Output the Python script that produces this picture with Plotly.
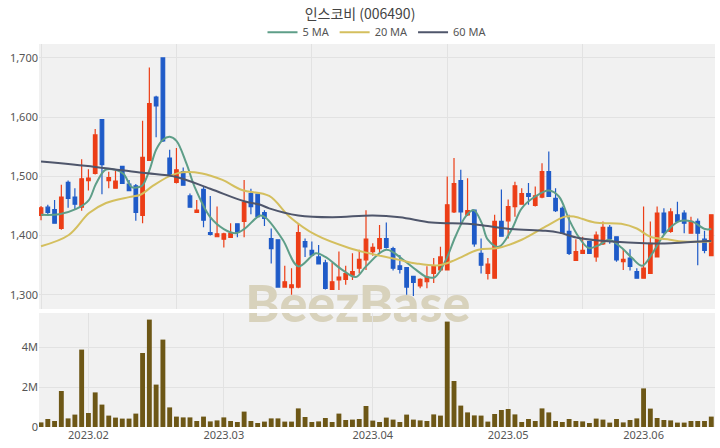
import plotly.graph_objects as go

title_text = "인스코비 (006490)"

opens = [1434,1448,1444,1412,1490,1465,1448,1493,1505,1596,
         1493,1480,1517,1487,1484,1434,1527,1634,1700,1531,
         1490,1508,1467,1439,1478,1405,1398,1394,1397,1420,
         1424,1471,1470,1439,1395,1393,1313,1312,1313,1390,
         1375,1364,1354,1309,1325,1326,1333,1345,1359,1373,
         1378,1395,1378,1349,1346,1331,1315,1322,1336,1342,
         1342,1440,1493,1435,1443,1370,1336,1328,1424,1425,
         1449,1453,1471,1451,1465,1508,1463,1446,1407,1358,
         1370,1390,1364,1386,1414,1398,1356,1362,1339,1328,
         1336,1364,1438,1407,1435,1438,1404,1424,1394,1366]
highs = [1450,1452,1460,1486,1493,1480,1529,1512,1580,1596,
         1508,1510,1518,1494,1487,1594,1684,1636,1700,1545,
         1548,1515,1471,1460,1482,1467,1449,1405,1421,1421,
         1494,1479,1470,1443,1412,1394,1349,1345,1421,1395,
         1390,1384,1359,1354,1373,1349,1370,1376,1443,1387,
         1418,1422,1381,1367,1346,1331,1328,1348,1362,1381,
         1500,1531,1511,1497,1444,1395,1362,1435,1478,1461,
         1491,1480,1489,1483,1522,1542,1480,1449,1435,1394,
         1398,1390,1407,1424,1418,1398,1377,1377,1345,1449,
         1424,1449,1446,1446,1457,1443,1432,1429,1408,1435]
lows = [1426,1436,1420,1410,1447,1445,1442,1476,1503,1470,
        1480,1479,1487,1475,1425,1421,1527,1566,1558,1500,
        1488,1484,1447,1439,1414,1400,1398,1380,1397,1397,
        1397,1436,1431,1416,1353,1313,1313,1300,1311,1364,
        1367,1352,1309,1308,1308,1317,1325,1336,1342,1366,
        1370,1378,1341,1336,1300,1298,1311,1311,1320,1339,
        1342,1438,1418,1433,1381,1336,1326,1328,1398,1395,
        1432,1452,1452,1449,1463,1466,1440,1403,1367,1358,
        1370,1370,1356,1384,1386,1356,1342,1341,1328,1328,
        1335,1364,1401,1405,1422,1404,1404,1350,1370,1366]
closes = [1447,1439,1421,1465,1463,1453,1496,1497,1570,1520,
          1498,1492,1488,1476,1439,1532,1623,1619,1560,1501,
          1511,1485,1448,1443,1426,1402,1403,1403,1404,1406,
          1456,1449,1432,1429,1378,1313,1322,1317,1405,1381,
          1367,1352,1311,1322,1330,1336,1339,1360,1394,1380,
          1395,1380,1345,1343,1313,1321,1326,1330,1348,1364,
          1452,1488,1440,1442,1386,1350,1352,1424,1399,1449,
          1484,1471,1466,1467,1508,1466,1442,1404,1370,1373,
          1375,1370,1401,1414,1395,1359,1360,1348,1328,1345,
          1387,1438,1405,1440,1424,1421,1424,1404,1375,1435]
volume_m = [0.23,0.4,0.3,1.8,0.43,0.62,3.87,0.7,1.73,1.12,
            0.57,0.47,0.42,0.42,0.67,3.7,5.37,2.12,4.37,0.98,
            0.52,0.48,0.48,0.3,0.52,0.28,0.33,0.48,0.3,0.25,
            0.77,0.3,0.2,0.27,0.43,0.43,0.27,0.27,0.93,0.5,
            0.25,0.28,0.45,0.25,0.67,0.35,0.37,0.4,1.05,0.32,
            0.25,0.47,0.37,0.25,0.62,0.37,0.33,0.3,0.63,0.57,
            5.27,2.3,1.07,0.73,0.58,0.57,0.27,0.65,0.85,0.9,
            0.63,0.25,0.4,0.3,0.93,0.73,0.3,0.25,0.4,0.3,
            0.28,0.2,0.42,0.37,0.22,0.4,0.23,0.35,0.43,1.93,
            0.92,0.45,0.35,0.33,0.22,0.22,0.3,0.3,0.3,0.52]

ma5_x = [0,2.7,5.2,7,8.1,9.5,11,12.2,13.4,14.5,15,16,17,18,19,20,21.5,22.7,25,27,28.8,30,
         32.4,33.2,35.7,38,40.6,42,44.5,46.5,48,51,53.5,55.4,57,58.2,59.8,61.2,62.7,63.9,
         65.1,66,67.6,69.5,71,73,75,76.5,78,79.4,80.9,82.4,83.9,85.8,87.3,88.8,90.3,92.2,
         94.2,96.1,98.1,99]
ma5_y = [1435,1436,1445,1459,1487,1511,1511,1504,1482,1482,1485,1510,1545,1562,1567,1560,1521,1482,1431,1411,1404,1411,
         1434,1430,1393,1348,1370,1364,1342,1330,1348,1376,1359,1342,1330,1330,1359,1398,1432,1443,
         1421,1393,1381,1410,1446,1466,1476,1466,1427,1398,1379,1384,1393,1379,1362,1349,1370,1404,
         1424,1424,1411,1411]
ma20_x = [0,4.1,7.1,9.6,13,14.7,16.4,18.9,20.9,23.8,26.8,29.7,33.7,36.7,40.6,45.5,48.5,52.9,55.4,
          58.8,61.2,64.6,67.5,71,74.5,77.4,78.8,81.8,85.7,88,90,92.9,94.8,99]
ma20_y = [1382,1401,1438,1455,1465,1469,1483,1500,1507,1505,1494,1477,1467,1432,1401,1379,1370,1359,1353,
          1350,1359,1376,1379,1393,1415,1432,1432,1422,1420,1412,1398,1393,1390,1390]
ma60_x = [0,8,15,20,25,30,32.4,33.7,38,43,49,53,57.7,63,66,69.5,74.5,76.5,79.4,84.3,89.2,93,98.5,99]
ma60_y = [1525,1516,1506,1499,1479,1458,1452,1446,1434,1431,1434,1431,1422,1420,1416,1411,1408,1405,1396,
          1390,1387,1387,1391,1391]

month_tick_idx = [7, 27, 49, 69, 89]
month_tick_text = ["2023.02", "2023.03", "2023.04", "2023.05", "2023.06"]
price_grid_idx = [0, 20, 40, 60, 80]
price_ticks = [1300, 1400, 1500, 1600, 1700]
vol_ticks = [0, 2, 4]
vol_tick_text = ["0", "2M", "4M"]
watermark = "BeezBase"

x = list(range(len(opens)))
RED = "#ec3e17"
BLUE = "#1f5bc8"
FONT = "Noto Sans, Noto Sans CJK KR, sans-serif"

PRICE_DOM = [(427 - 309) / 383, 1]
VOL_DOM = [0, (427 - 313) / 383]

fig = go.Figure()

# watermark (drawn beneath the data), anchored just inside the price panel bottom
wm_font = dict(family="Lato, Noto Sans, sans-serif", size=52, color="#d8d2bc", weight=900)
fig.add_trace(go.Scatter(x=[46.8], y=[1276.5], mode="text", text=[watermark],
                         textposition="middle center",
                         textfont=wm_font, xaxis="x", yaxis="y", showlegend=False,
                         hoverinfo="skip", cliponaxis=False))

fig.add_trace(go.Bar(x=x, y=volume_m, marker=dict(color="#6d5716", line=dict(width=0)),
                     width=0.72, xaxis="x2", yaxis="y2", showlegend=False))

fig.add_trace(go.Candlestick(x=x, open=opens, high=highs, low=lows, close=closes,
                             increasing=dict(line=dict(color=RED, width=1.2), fillcolor=RED),
                             decreasing=dict(line=dict(color=BLUE, width=1.2), fillcolor=BLUE),
                             whiskerwidth=0, xaxis="x", yaxis="y", showlegend=False))

fig.add_trace(go.Scatter(x=ma5_x, y=ma5_y, mode="lines", name="5 MA",
                         line=dict(color="#5e9e88", width=2, shape="spline"), xaxis="x", yaxis="y"))
fig.add_trace(go.Scatter(x=ma20_x, y=ma20_y, mode="lines", name="20 MA",
                         line=dict(color="#d4bf5e", width=2, shape="spline"), xaxis="x", yaxis="y"))
fig.add_trace(go.Scatter(x=ma60_x, y=ma60_y, mode="lines", name="60 MA",
                         line=dict(color="#4f566b", width=2, shape="spline"), xaxis="x", yaxis="y"))

# white gap between the two panels (crosses the watermark as in the original)
fig.add_shape(type="rect", xref="paper", yref="paper", x0=0, x1=1,
              y0=VOL_DOM[1], y1=PRICE_DOM[0], fillcolor="white", line=dict(width=0), layer="above")

axis_common = dict(showline=False, zeroline=False, gridcolor="#e2e2e2", gridwidth=1,
                   tickfont=dict(family=FONT, size=11, color="#555555"), ticks="")

fig.update_layout(
    width=720, height=448,
    margin=dict(l=39, r=5, t=44, b=21),
    paper_bgcolor="white", plot_bgcolor="#f1f1f1",
    title=dict(text=title_text, x=0.5, xanchor="center", y=1 - 14 / 448, yanchor="middle",
               font=dict(family="Noto Sans CJK KR, sans-serif", size=14, color="#444444")),
    legend=dict(orientation="h", x=0.5, xanchor="center", y=1.031, yanchor="middle",
                font=dict(family=FONT, size=11, color="#555555"), bgcolor="rgba(0,0,0,0)",
                itemwidth=30, tracegroupgap=0),
    xaxis=dict(domain=[0, 1], range=[-0.3, 99.55], tickmode="array", tickvals=price_grid_idx,
               showticklabels=False, anchor="y", matches="x2", rangeslider=dict(visible=False),
               **axis_common),
    xaxis2=dict(domain=[0, 1], range=[-0.3, 99.55], tickmode="array", tickvals=month_tick_idx,
                ticktext=month_tick_text, anchor="y2", **axis_common),
    yaxis=dict(domain=PRICE_DOM, range=[1276, 1723.6], tickmode="array",
               tickvals=price_ticks, tickformat=",", anchor="x", **axis_common),
    yaxis2=dict(domain=VOL_DOM, range=[0, 5.7], tickmode="array",
                tickvals=vol_ticks, ticktext=vol_tick_text, anchor="x2", **axis_common),
    bargap=0.2,
    boxgap=0.25,
)

fig.write_html("out.html", config={"displayModeBar": False},
               post_script="document.body.style.margin='0';document.body.style.overflow='hidden';")
